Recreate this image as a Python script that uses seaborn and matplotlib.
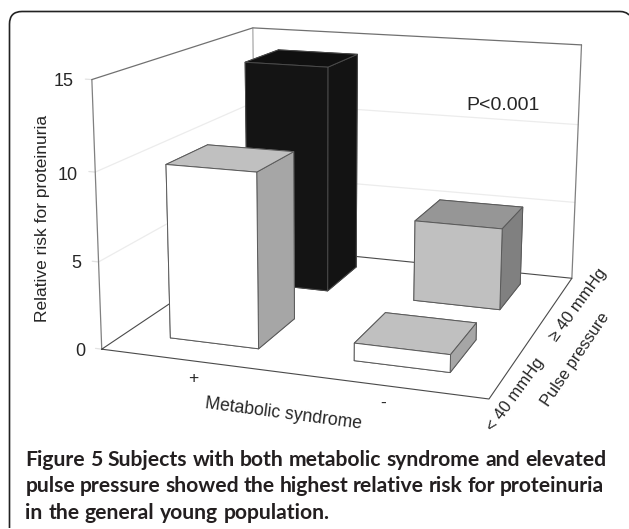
import numpy as np
import matplotlib
matplotlib.use("Agg")
import matplotlib.pyplot as plt
import seaborn as sns
from matplotlib.path import Path
from matplotlib.patches import PathPatch
from matplotlib.transforms import IdentityTransform

# relative risk, one row per pulse pressure group
syndrome_labels = ["+", "-"]
pressure_labels = ["< 40 mmHg", "\u2265 40 mmHg"]
risk_low_pressure = [10, 1]
risk_high_pressure = [14, 5]
risk_ticks = [0, 5, 10, 15]

# front, top, right side
low_colors = [["#ffffff", "#c0c0c0", "#a6a6a6"], ["#ffffff", "#c0c0c0", "#a6a6a6"]]
high_colors = [["#141414", "#101010", "#131313"], ["#c0c0c0", "#969696", "#808080"]]

FIG_W, FIG_H = 629, 529
sns.set_theme(style="white", font="Liberation Sans")
plt.rcParams["text.color"] = "#262626"

fig = plt.figure(figsize=(FIG_W / 100, FIG_H / 100), dpi=100)

# camera fitted to the picture
scale = 3099.94
cx, cy = 355.06, 188.51
side = scale * 0.185
ax = fig.add_axes([(cx - 0.095 * scale) / FIG_W, (FIG_H - cy - 0.095 * scale) / FIG_H,
                   side / FIG_W, side / FIG_H], projection="3d", computed_zorder=False)
ax.set_xlim(0, 2)
ax.set_ylim(0, 2)
ax.set_zlim(0, 15)
ax.view_init(13.697, -71.208, -0.311)
ax.set_proj_type("persp", focal_length=0.484)
ax.set_box_aspect((1, 1.004, 0.686))
ax.set_axis_off()
ax.patch.set_alpha(0)

# gridlines on the walls
for t in risk_ticks:
    if t in (5, 10):
        ax.plot([0, 0, 2], [0, 2, 2], [t, t, t], color="#ececec", lw=0.9, zorder=1)
    ax.plot([-0.035, 0], [0, 0], [t, t], color="#e2e2e2", lw=0.9, zorder=1)

# walls and floor
ax.plot([0, 0], [0, 0], [0, 15], color="#808080", lw=0.9, zorder=2)
ax.plot([0, 0], [2, 2], [0, 15], color="#a8a8a8", lw=0.9, zorder=2)
ax.plot([2, 2], [2, 2], [0, 15], color="#808080", lw=0.9, zorder=2)
ax.plot([0, 0, 2], [0, 2, 2], [15, 15, 15], color="#707070", lw=0.9, zorder=2)
ax.plot([0, 2, 2, 0, 0], [0, 0, 2, 2, 0], [0, 0, 0, 0, 0], color="#4a4a4a", lw=0.8, zorder=2)

BAR_W = 0.49
BAR_D = 0.5


def draw_bar(col, row, height, colors, order, edge):
    front, top, right = colors
    # bar3d face order: bottom, top, -y, +y, -x, +x
    faces = [front, top, front, front, front, right]
    y = row + (0.27 if row == 0 else 0.29)
    ax.bar3d(col + 0.25, y, 0, BAR_W, BAR_D, height, color=faces, shade=False,
             edgecolor=edge, linewidth=0.7, zorder=order)


# back row first so the front row covers it
draw_bar(0, 1, risk_high_pressure[0], high_colors[0], 5, "#4a4a4a")
draw_bar(1, 1, risk_high_pressure[1], high_colors[1], 6, "#5a5a5a")
draw_bar(0, 0, risk_low_pressure[0], low_colors[0], 7, "#5a5a5a")
draw_bar(1, 0, risk_low_pressure[1], low_colors[1], 8, "#5a5a5a")


def put(x, y, s, **kw):
    return fig.text(x / FIG_W, 1 - y / FIG_H, s, ha="center", va="center", **kw)


for t, x, y in zip(risk_ticks, [80, 76, 68, 64], [351, 263, 175, 82]):
    put(x, y, str(t), fontsize=13)

put(43, 218, "Relative risk for proteinuria", rotation=90, fontsize=12.5)
put(503, 106, "P<0.001", fontsize=14)
put(193, 379, syndrome_labels[0], fontsize=12.5)
put(383, 403, syndrome_labels[1], fontsize=12.5)
put(283, 414, "Metabolic syndrome", rotation=-7.5, fontsize=12.7, rotation_mode="anchor")
put(515, 395, pressure_labels[0], rotation=54, fontsize=12, rotation_mode="anchor")
put(578, 305, pressure_labels[1], rotation=54, fontsize=12, rotation_mode="anchor")
put(575, 359, "Pulse pressure", rotation=56, fontsize=11.8, rotation_mode="anchor")

# rounded frame, open at the bottom and cut off on the right
frame = Path(
    [(9.5, FIG_H - 528), (9.5, FIG_H - 24), (9.5, FIG_H - 11.5), (22, FIG_H - 11.5),
     (620, FIG_H - 11.5), (626, FIG_H - 11.5), (629, FIG_H - 15)],
    [Path.MOVETO, Path.LINETO, Path.CURVE3, Path.CURVE3, Path.LINETO, Path.CURVE3, Path.CURVE3],
)
fig.add_artist(PathPatch(frame, fill=False, edgecolor="#222222", lw=1.2, transform=IdentityTransform()))

# caption, first two lines justified word by word
caption = [
    ("Figure 5 Subjects with both metabolic syndrome and elevated", 466.5, 606),
    ("pulse pressure showed the highest relative risk for proteinuria", 492, 604),
    ("in the general young population.", 519, None),
]
renderer = fig.canvas.get_renderer()
for line, base, right in caption:
    words = line.split(" ")
    texts = [fig.text(0, 1 - base / FIG_H, w, family="Lato", fontweight="bold", fontsize=15.2,
                      color="#231f20", va="baseline") for w in words]
    widths = [t.get_window_extent(renderer).width for t in texts]
    gap = 5.5 if right is None else (right - 25.5 - sum(widths)) / (len(words) - 1)
    x = 25.5
    for t, w in zip(texts, widths):
        t.set_x(x / FIG_W)
        x += w + gap

fig.savefig("out.png", dpi=100)
